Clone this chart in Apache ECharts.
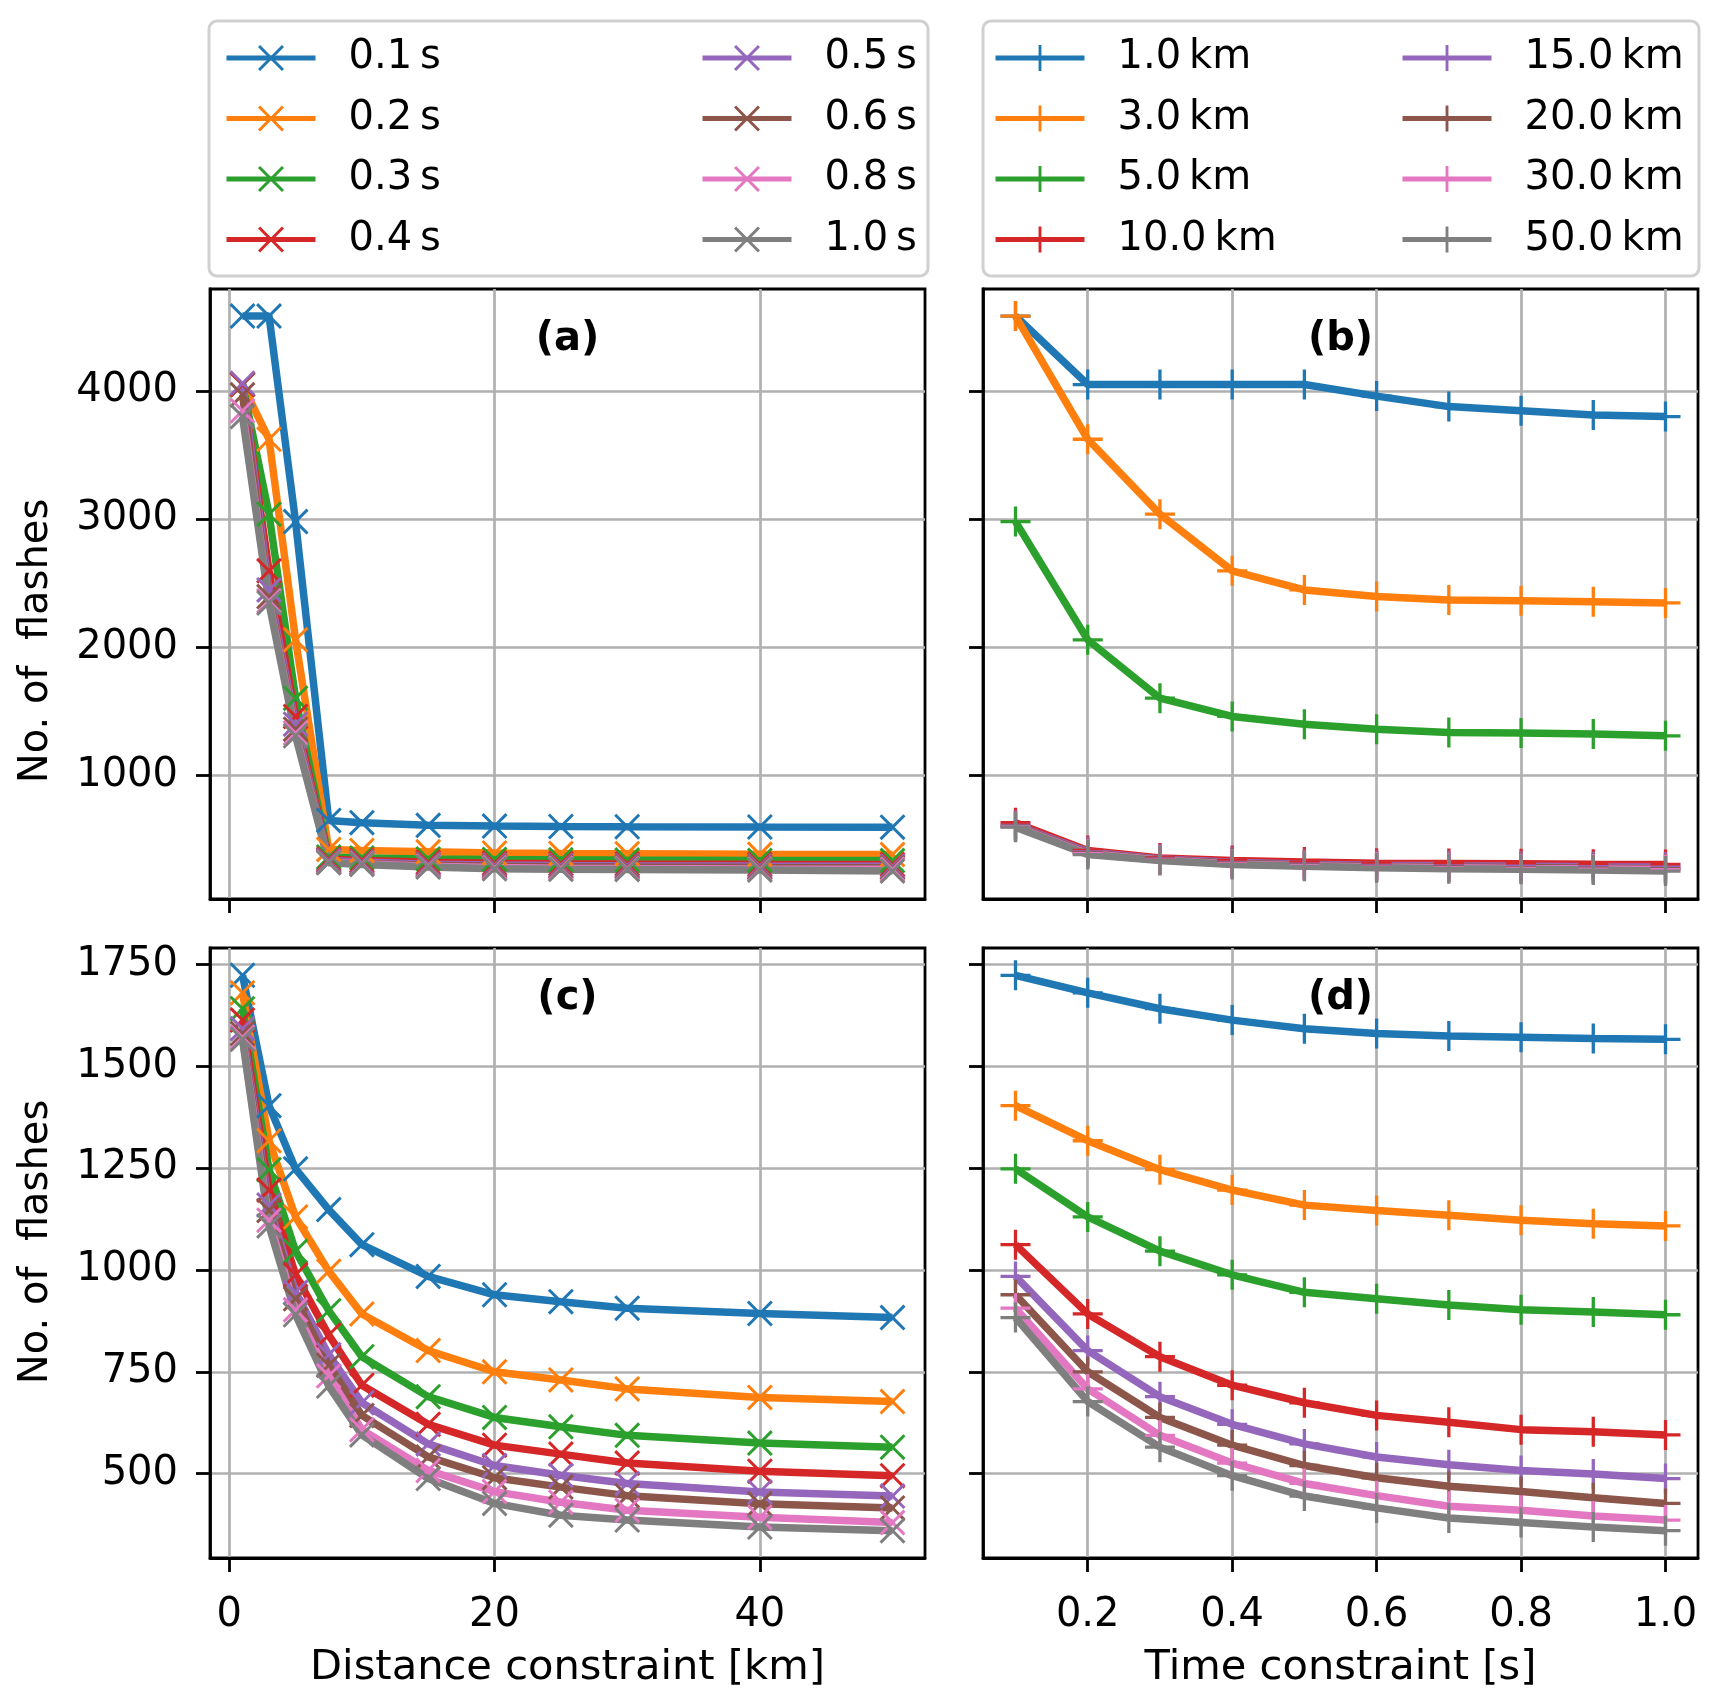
<!DOCTYPE html>
<html>
<head>
<meta charset="utf-8">
<script src="https://cdn.jsdelivr.net/npm/echarts@6/dist/echarts.min.js"></script>
<style>
html, body { margin: 0; padding: 0; background: #ffffff; }
#chart { width: 1719px; height: 1700px; }
</style>
</head>
<body>
<div id="chart"></div>
<script>
// ---------- data ----------
const distKm = [1, 3, 5, 7.5, 10, 15, 20, 25, 30, 40, 50];
const timeS = [0.1, 0.2, 0.3, 0.4, 0.5, 0.6, 0.7, 0.8, 0.9, 1.0];

const timeLabels = ['0.1\u2009s', '0.2\u2009s', '0.3\u2009s', '0.4\u2009s', '0.5\u2009s', '0.6\u2009s', '0.8\u2009s', '1.0\u2009s'];
const distLabels = ['1.0\u2009km', '3.0\u2009km', '5.0\u2009km', '10.0\u2009km', '15.0\u2009km', '20.0\u2009km', '30.0\u2009km', '50.0\u2009km'];

// panel (a): one row per time constraint, values at distKm
const flashesA = [
  [4585, 4585, 2980, 647, 630, 609, 603, 600, 598, 596, 595],
  [4050, 3623, 2057, 421, 413, 402, 393, 390, 388, 383, 381],
  [4050, 3038, 1602, 362, 355, 347, 343, 340, 338, 335, 334],
  [4050, 2596, 1459, 345, 335, 320, 313, 310, 308, 305, 303],
  [4060, 2447, 1399, 335, 322, 306, 299, 296, 294, 291, 289],
  [3970, 2395, 1360, 327, 314, 297, 289, 285, 283, 280, 278],
  [3845, 2362, 1330, 320, 309, 290, 279, 275, 272, 268, 266],
  [3800, 2345, 1308, 317, 304, 283, 270, 266, 264, 260, 252]
];
// panel (b): one row per distance constraint, values at timeS
const flashesB = [
  [4585, 4050, 4050, 4050, 4050, 3960, 3878, 3845, 3812, 3800],
  [4585, 3623, 3038, 2596, 2447, 2395, 2369, 2362, 2354, 2345],
  [2980, 2057, 1602, 1459, 1399, 1360, 1334, 1330, 1322, 1308],
  [630, 413, 355, 335, 322, 314, 312, 309, 306, 304],
  [609, 402, 347, 320, 306, 297, 293, 290, 286, 283],
  [603, 393, 343, 313, 299, 289, 284, 279, 275, 270],
  [598, 388, 338, 308, 294, 283, 277, 272, 268, 264],
  [595, 381, 334, 303, 289, 278, 271, 266, 260, 252]
];
// panel (c): one row per time constraint, values at distKm
const flashesC = [
  [1723, 1403, 1248, 1148, 1062, 984, 939, 922, 906, 893, 883],
  [1680, 1317, 1130, 997, 892, 802, 750, 730, 708, 687, 677],
  [1641, 1246, 1046, 900, 787, 689, 638, 615, 594, 575, 565],
  [1613, 1196, 988, 840, 717, 621, 570, 548, 526, 506, 495],
  [1592, 1159, 945, 792, 674, 573, 520, 496, 476, 455, 445],
  [1580, 1146, 929, 766, 643, 541, 490, 467, 446, 426, 416],
  [1571, 1122, 902, 740, 608, 508, 456, 430, 410, 393, 380],
  [1566, 1108, 890, 715, 595, 488, 427, 398, 386, 369, 360]
];
// panel (d): one row per distance constraint, values at timeS
const flashesD = [
  [1723, 1680, 1641, 1613, 1592, 1580, 1574, 1571, 1568, 1566],
  [1403, 1317, 1246, 1196, 1159, 1146, 1134, 1122, 1113, 1108],
  [1248, 1130, 1046, 988, 945, 929, 914, 902, 897, 890],
  [1062, 892, 787, 717, 674, 643, 626, 608, 603, 595],
  [984, 802, 689, 621, 573, 541, 522, 508, 499, 488],
  [939, 750, 638, 570, 520, 490, 469, 456, 441, 427],
  [906, 708, 594, 526, 476, 446, 420, 410, 396, 386],
  [883, 677, 565, 495, 445, 416, 391, 380, 369, 360]
];

const distTicks = [0, 20, 40];
const timeTicks = [0.2, 0.4, 0.6, 0.8, 1.0];
const topTicks = [1000, 2000, 3000, 4000];
const bottomTicks = [500, 750, 1000, 1250, 1500, 1750];
const panelLetters = ['(a)', '(b)', '(c)', '(d)'];
const yTitle = 'No. of  flashes';

// ---------- styling ----------
const colors = ['#1f77b4', '#ff7f0e', '#2ca02c', '#d62728', '#9467bd', '#8c564b', '#e377c2', '#7f7f7f'];
const FONT = 'DejaVu Sans';
const FS = 40;
const LEGEND_LW = 5;
const SERIES_LW = 7.5;
const X_PATH = 'path://M0,8.1 L8.1,0 L50,41.9 L91.9,0 L100,8.1 L58.1,50 L100,91.9 L91.9,100 L50,58.1 L8.1,100 L0,91.9 L41.9,50 Z';
const PLUS_PATH = 'path://M44.5,0 L55.5,0 L55.5,44.5 L100,44.5 L100,55.5 L55.5,55.5 L55.5,100 L44.5,100 L44.5,55.5 L0,55.5 L0,44.5 L44.5,44.5 Z';

const grids = [
  { left: 210, top: 289, width: 715, height: 610 },
  { left: 983, top: 289, width: 715, height: 610 },
  { left: 210, top: 948, width: 715, height: 610 },
  { left: 983, top: 948, width: 715, height: 610 }
].map(g => Object.assign(g, { show: true, borderColor: '#000', borderWidth: 2.8, backgroundColor: 'transparent' }));

function xAxisCfg(gi, isDist, showLabels, name) {
  return {
    type: 'value', gridIndex: gi,
    min: isDist ? -1.45 : 0.055, max: isDist ? 52.45 : 1.045,
    axisLine: { show: true, onZero: false, lineStyle: { color: '#000', width: 2.8 } },
    axisTick: { show: true, inside: false, length: 14, lineStyle: { color: '#000', width: 2.8 },
      customValues: isDist ? distTicks : timeTicks },
    axisLabel: { show: showLabels, margin: 38, color: '#000', fontFamily: FONT, fontSize: FS,
      customValues: isDist ? distTicks : timeTicks,
      formatter: v => isDist ? String(v) : Number(v).toFixed(1) },
    splitLine: { show: true, lineStyle: { color: '#b0b0b0', width: 2.7 } },
    name: name || '', nameLocation: 'middle', nameGap: 89,
    nameTextStyle: { color: '#000', fontFamily: FONT, fontSize: 41.6 }
  };
}
function yAxisCfg(gi, isTop, showLabels) {
  return {
    type: 'value', gridIndex: gi,
    min: isTop ? 34 : 293, max: isTop ? 4796 : 1790,
    axisLine: { show: true, onZero: false, lineStyle: { color: '#000', width: 2.8 } },
    axisTick: { show: true, inside: false, length: 14, lineStyle: { color: '#000', width: 2.8 },
      customValues: isTop ? topTicks : bottomTicks },
    axisLabel: { show: showLabels, margin: 32, color: '#000', fontFamily: FONT, fontSize: FS,
      customValues: isTop ? topTicks : bottomTicks, formatter: v => String(v) },
    splitLine: { show: true, lineStyle: { color: '#b0b0b0', width: 2.7 } }
  };
}

const xAxes = [
  xAxisCfg(0, true, false),
  xAxisCfg(1, false, false),
  xAxisCfg(2, true, true, 'Distance constraint [km]'),
  xAxisCfg(3, false, true, 'Time constraint [s]')
];
const yAxes = [
  yAxisCfg(0, true, true),
  yAxisCfg(1, true, false),
  yAxisCfg(2, false, true),
  yAxisCfg(3, false, false)
];

function makeSeries(panel, rows, xs, names, symbol, size) {
  return rows.map((row, i) => ({
    type: 'line', name: names[i],
    xAxisIndex: panel, yAxisIndex: panel,
    data: xs.map((x, j) => [x, row[j]]),
    symbol: symbol, symbolSize: size, showAllSymbol: true,
    color: colors[i],
    lineStyle: { color: colors[i], width: SERIES_LW },
    itemStyle: { color: colors[i], borderWidth: 0 },
    z: 2
  }));
}
const series = [].concat(
  makeSeries(0, flashesA, distKm, timeLabels, X_PATH, 26),
  makeSeries(1, flashesB, timeS, distLabels, PLUS_PATH, 30),
  makeSeries(2, flashesC, distKm, timeLabels, X_PATH, 26),
  makeSeries(3, flashesD, timeS, distLabels, PLUS_PATH, 30)
);

function legendCfg(names, left) {
  return {
    show: true, orient: 'vertical', left: left, top: 38, padding: 0,
    itemWidth: 89, itemHeight: 32.5, itemGap: 20.5,
    selectedMode: false,
    data: names,
    lineStyle: { width: LEGEND_LW },
    textStyle: { color: '#000', fontFamily: FONT, fontSize: FS, padding: [0, 0, 0, 28] }
  };
}
const legends = [
  legendCfg(timeLabels.slice(0, 4), 224),
  legendCfg(timeLabels.slice(4), 700),
  legendCfg(distLabels.slice(0, 4), 993),
  legendCfg(distLabels.slice(4), 1400)
];

const titles = panelLetters.map((t, i) => ({
  text: t, left: grids[i].left + grids[i].width / 2, top: grids[i].top + 31,
  textAlign: 'center', padding: 0,
  textStyle: { fontFamily: FONT, fontSize: FS, fontWeight: 'bold', color: '#000' }
}));

const chart = echarts.init(document.getElementById('chart'), null, { renderer: 'canvas' });
chart.setOption({
  animation: false,
  backgroundColor: '#ffffff',
  title: titles,
  legend: legends,
  grid: grids,
  xAxis: xAxes,
  yAxis: yAxes,
  series: series,
  graphic: [
    { type: 'rect', shape: { x: 209, y: 21, width: 719, height: 255, r: 8 }, z: -10,
      style: { fill: '#ffffff', stroke: '#d0d0d0', lineWidth: 3 } },
    { type: 'rect', shape: { x: 983, y: 21, width: 716, height: 255, r: 8 }, z: -10,
      style: { fill: '#ffffff', stroke: '#d0d0d0', lineWidth: 3 } },
    { type: 'text', x: 37, y: 641, rotation: Math.PI / 2,
      style: { text: yTitle, font: '40px "DejaVu Sans"', fill: '#000', align: 'center', verticalAlign: 'middle' } },
    { type: 'text', x: 37, y: 1242, rotation: Math.PI / 2,
      style: { text: yTitle, font: '40px "DejaVu Sans"', fill: '#000', align: 'center', verticalAlign: 'middle' } }
  ]
});
</script>
</body>
</html>
